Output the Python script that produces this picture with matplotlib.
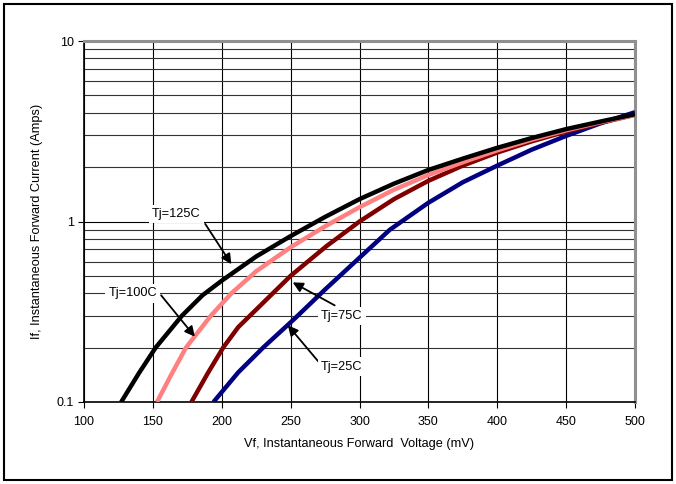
import matplotlib.pyplot as plt
import matplotlib.ticker as mticker
from matplotlib.patches import Rectangle

plt.rcParams['font.family'] = ['Liberation Sans', 'DejaVu Sans']

# Tj = 125C
vf_125 = [127, 140, 152, 171, 186, 200, 225, 250, 275, 300, 325, 350, 375, 400, 425, 450, 475, 500]
if_125 = [0.1, 0.145, 0.2, 0.3, 0.39, 0.47, 0.64, 0.83, 1.06, 1.33, 1.62, 1.93, 2.23, 2.56, 2.9, 3.25, 3.58, 3.93]
# Tj = 100C
vf_100 = [153, 163, 174, 192, 207, 225, 250, 275, 300, 325, 350, 375, 400, 425, 450, 475, 500]
if_100 = [0.1, 0.14, 0.2, 0.3, 0.4, 0.53, 0.72, 0.94, 1.2, 1.5, 1.81, 2.13, 2.48, 2.84, 3.2, 3.55, 3.9]
# Tj = 75C
vf_75 = [178, 190, 201, 212, 225, 250, 276, 300, 325, 350, 375, 400, 425, 450, 475, 500]
if_75 = [0.1, 0.145, 0.2, 0.26, 0.325, 0.5, 0.73, 1.0, 1.33, 1.68, 2.04, 2.41, 2.78, 3.15, 3.52, 3.9]
# Tj = 25C
vf_25 = [194, 212, 230, 253, 275, 300, 322, 350, 375, 400, 425, 450, 475, 500]
if_25 = [0.1, 0.146, 0.2, 0.29, 0.42, 0.63, 0.9, 1.27, 1.65, 2.04, 2.5, 2.98, 3.5, 4.03]

x_ticks = [100, 150, 200, 250, 300, 350, 400, 450, 500]
y_ticks = [0.1, 1, 10]
y_labels = ['0.1', '1', '10']

fig = plt.figure(figsize=(6.76, 4.84), dpi=100)
ax = fig.add_axes([84 / 676, 1 - 402 / 484, 551 / 676, 361 / 484])

# outer frame around the whole picture
fig.patches.append(Rectangle((4 / 676, 4 / 484), 668 / 676, 476 / 484, transform=fig.transFigure,
                             fill=False, edgecolor='black', linewidth=1.5))

ax.set_yscale('log')
ax.set_xlim(100, 500)
ax.set_ylim(0.1, 10)

line_kw = dict(lw=3.2, solid_capstyle='butt', solid_joinstyle='round', zorder=3)
ax.plot(vf_25, if_25, color='#000080', **line_kw)
ax.plot(vf_75, if_75, color='#800000', **line_kw)
ax.plot(vf_100, if_100, color='#FF8080', **line_kw)
ax.plot(vf_125, if_125, color='black', **line_kw)

ax.set_xticks(x_ticks)
ax.set_yticks(y_ticks)
ax.yaxis.set_major_formatter(mticker.FixedFormatter(y_labels))
ax.yaxis.set_minor_locator(mticker.LogLocator(base=10, subs=range(2, 10)))
ax.yaxis.set_minor_formatter(mticker.NullFormatter())
ax.tick_params(axis='both', which='major', direction='out', length=4, width=0.8, labelsize=9, pad=6)
ax.tick_params(axis='y', which='minor', length=0)
ax.tick_params(axis='y', pad=3)

ax.grid(True, which='major', axis='both', color='black', lw=0.8)
ax.grid(True, which='minor', axis='y', color='#333333', lw=0.8)
ax.set_axisbelow(True)

for s in ['left', 'bottom']:
    ax.spines[s].set_color('black')
    ax.spines[s].set_linewidth(1.2)
for s in ['top', 'right']:
    ax.spines[s].set_color('#909090')
    ax.spines[s].set_linewidth(2.2)

ax.set_xlabel('Vf, Instantaneous Forward  Voltage (mV)', fontsize=9.2, labelpad=7)
ax.set_ylabel('If, Instantaneous Forward Current (Amps)', fontsize=9.2, labelpad=10)

box = dict(boxstyle='square,pad=0.25', facecolor='white', edgecolor='none')
arrow = dict(arrowstyle='-|>', color='black', lw=1.3, mutation_scale=15, shrinkA=0, shrinkB=0)
ax.annotate('', xy=(207, 0.58), xytext=(188, 0.97), arrowprops=arrow, zorder=4)
ax.text(167, 1.1, 'Tj=125C', fontsize=9.2, ha='center', va='center', bbox=box, zorder=5)
ax.annotate('', xy=(180.5, 0.23), xytext=(156, 0.39), arrowprops=arrow, zorder=4)
ax.text(135.5, 0.4, 'Tj=100C', fontsize=9.2, ha='center', va='center', bbox=box, zorder=5)
ax.annotate('', xy=(251.5, 0.46), xytext=(282, 0.343), arrowprops=arrow, zorder=4)
ax.text(287, 0.30, 'Tj=75C', fontsize=9.2, ha='center', va='center', bbox=box, zorder=5)
ax.annotate('', xy=(248, 0.266), xytext=(270, 0.168), arrowprops=arrow, zorder=4)
ax.text(287, 0.157, 'Tj=25C', fontsize=9.2, ha='center', va='center', bbox=box, zorder=5)

fig.savefig('out.png', dpi=100)
